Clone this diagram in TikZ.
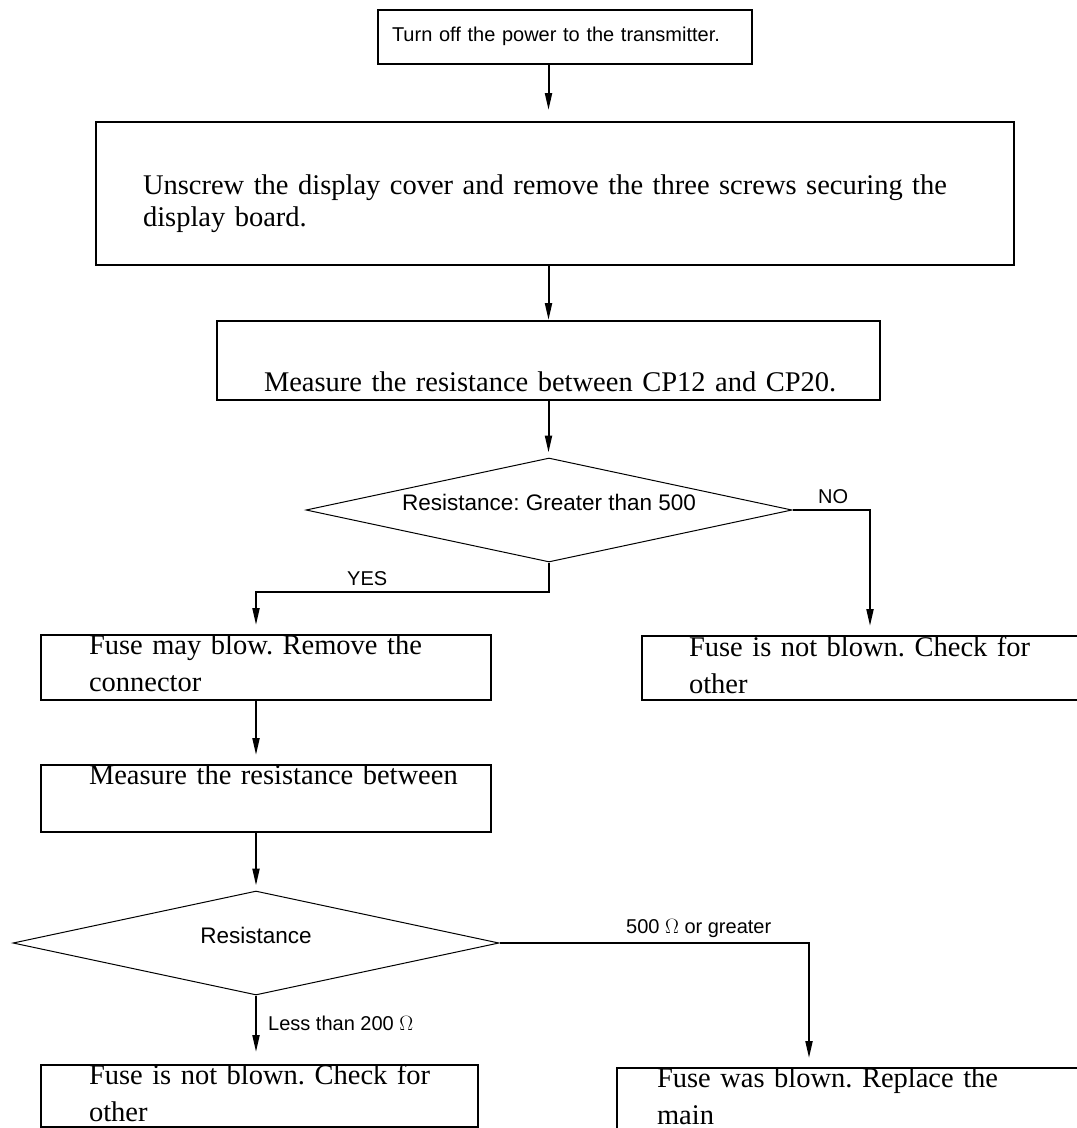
\documentclass[tikz,border=0pt]{standalone}
\usepackage{fontspec}
\setmainfont{Liberation Serif}
\setsansfont{Liberation Sans}
\usepackage{tikz}
\usetikzlibrary{positioning, arrows.meta, shapes.geometric, calc}
\frenchspacing

\tikzset{
  stepbox/.style={draw, line width=2pt, anchor=north west, inner sep=0pt, align=left,
    font=\fontsize{28.5}{37}\selectfont, execute at begin node={\leftskip=#1}},
  stepbox/.default=47pt,
  testbox/.style={draw, diamond, line width=1pt, inner sep=0pt, shape aspect=4.7,
    minimum width=486pt, minimum height=104pt, text height=0pt, text depth=0pt,
    font=\sffamily\fontsize{22.5}{26}\selectfont},
  flow/.style={line width=2pt, -{Triangle[length=17pt, width=7pt]}},
  lbl/.style={anchor=base west, inner sep=0pt, font=\sffamily\fontsize{20}{24}\selectfont}
}

\begin{document}
\begin{tikzpicture}[x=1pt, y=-1pt]
\useasboundingbox (0,0) rectangle (1077,1128);
\clip (0,0) rectangle (1077,1128);

% steps
\node[stepbox=14pt, font=\sffamily\fontsize{20}{24}\selectfont, text width=374pt, text height=31pt, text depth=23pt] (power) at (377,9) {Turn off the power to the transmitter.};
\node[stepbox, font=\fontsize{28.5}{32}\selectfont, text width=918pt, text height=72pt, text depth=71pt] (unscrew) at (95,121) {Unscrew the display cover and remove the three screws securing the\\display board.};
\node[stepbox, text width=663pt, text height=70pt, text depth=9pt] (meas) at (216,320) {Measure the resistance between CP12 and CP20.};
\node[testbox] (dia1) at (549,510) {Resistance: Greater than 500};
\node[stepbox=48pt, text width=450pt, text height=19pt, text depth=46pt] (mayblow) at (40,634) {Fuse may blow. Remove the\\connector};
\node[stepbox, text width=456pt, text height=20pt, text depth=44pt] (notblownA) at (641,635) {Fuse is not blown. Check for\\other};
\node[stepbox=48pt, text width=450pt, text height=19pt, text depth=48pt] (measb) at (40,764) {Measure the resistance between};
\node[testbox] (dia2) at (256,943) {Resistance};
\node[stepbox=48pt, text width=437pt, text height=19pt, text depth=43pt] (notblownB) at (40,1064) {Fuse is not blown. Check for\\other};
\node[stepbox=40pt, text width=480pt, text height=19pt, text depth=60pt] (blown) at (616,1067) {Fuse was blown. Replace the\\main};

% labels
\node[lbl] (nolbl) at (818,503) {NO};
\node[lbl] (yeslbl) at (347,585) {YES};
\node[lbl] (greaterlbl) at (626,933) {500 $\Omega$ or greater};
\node[lbl] (lesslbl) at (268,1030) {Less than 200 $\Omega$};

\coordinate (yesturn) at (256,592);
\coordinate (greaterturn) at (809,943);

% connectors
\draw[flow, shorten >=11pt] (power.south -| meas.north) -- (unscrew.north -| meas.north);
\draw[flow] (unscrew.south -| meas.north) -- (meas.north);
\draw[flow, shorten >=5pt] (meas.south) -- (meas.south |- dia1.north);
\draw[flow, shorten >=9pt] (dia1.east) -| (notblownA.north);
\draw[flow, shorten >=9pt] (dia1.south) |- (yesturn) -- (yesturn |- mayblow.north);
\draw[flow, shorten >=9pt] (mayblow.south -| dia2.north) -- (measb.north -| dia2.north);
\draw[flow, shorten >=5pt] (measb.south -| dia2.north) -- (dia2.north);
\draw[flow, shorten >=12pt] (dia2.south) -- (dia2.south |- notblownB.north);
\draw[flow, shorten >=9pt] (dia2.east) -- (greaterturn) -- (greaterturn |- blown.north);
\end{tikzpicture}
\end{document}
